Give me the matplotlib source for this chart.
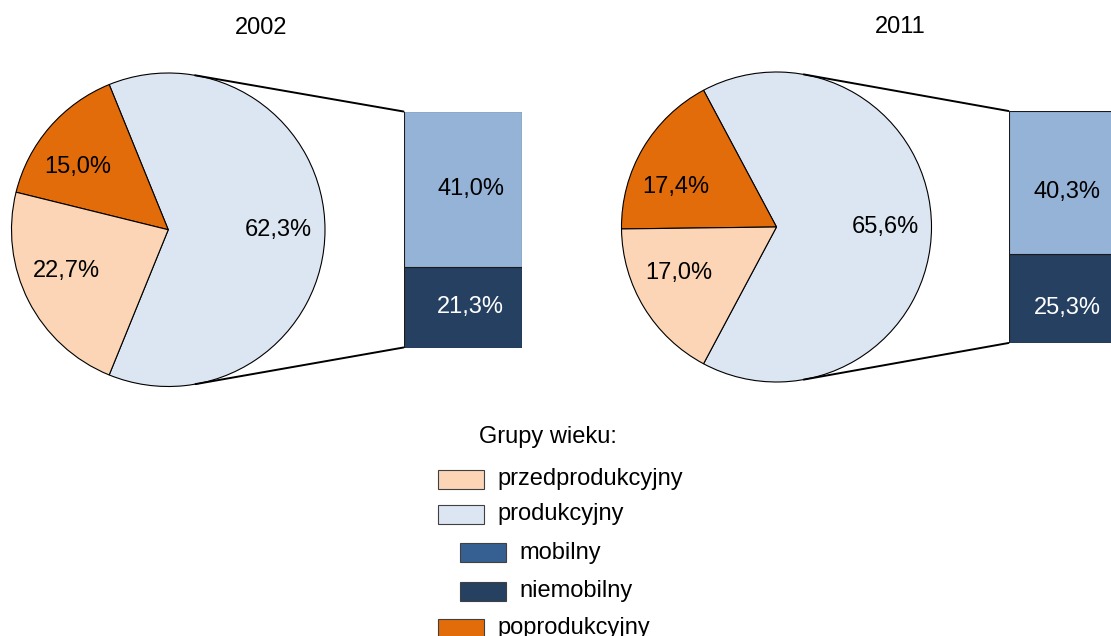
import numpy as np
import matplotlib
matplotlib.use("Agg")
import matplotlib.pyplot as plt
from matplotlib.patches import ConnectionPatch, Rectangle

plt.rcParams['font.family'] = ['Liberation Sans', 'DejaVu Sans']

# ---- data ----
years = ["2002", "2011"]
przedprodukcyjny = [22.7, 17.0]
produkcyjny = [62.3, 65.6]
poprodukcyjny = [15.0, 17.4]
mobilny = [41.0, 40.3]
niemobilny = [21.3, 25.3]
legend_title = "Grupy wieku:"
legend_labels = ["przedprodukcyjny", "produkcyjny", "mobilny", "niemobilny", "poprodukcyjny"]

# ---- style ----
C_PRZED = "#FBD5B5"
C_PROD = "#DCE6F2"
C_POPRO = "#E36C0A"
C_MOB_BAR = "#95B3D7"
C_MOB_LEG = "#376092"
C_NIEMOB = "#254061"
FS = 17

W, H = 1111, 636
fig = plt.figure(figsize=(W / 100, H / 100), dpi=100)


def box(x0, y0, x1, y1):
    """pixel box (top-left origin) -> figure fraction rect"""
    return [x0 / W, 1 - y1 / H, (x1 - x0) / W, (y1 - y0) / H]


def fmt(v):
    return f"{v:.1f}%".replace(".", ",")


pie_boxes = [(11.5, 73, 325, 386.5), (621.5, 72, 931.5, 382)]
bar_boxes = [(403.5, 111.5, 521.5, 347.5), (1008.5, 111, 1125.5, 343)]
bar_label_offsets = [(6, 0), (0, -7)]
title_pos = [(261, 28), (900, 27)]
# label angle adjustments (degrees) for [produkcyjny, poprodukcyjny, przedprodukcyjny]
label_angle_shift = [(0, 6, -5), (0, 9, -6)]

for i in range(2):
    vals = [produkcyjny[i], poprodukcyjny[i], przedprodukcyjny[i]]
    cols = [C_PROD, C_POPRO, C_PRZED]
    axp = fig.add_axes(box(*pie_boxes[i]))
    start = -produkcyjny[i] * 3.6 / 2
    wedges, texts, autotexts = axp.pie(
        vals, colors=cols, startangle=start, counterclock=True, radius=1,
        autopct=lambda p: fmt(p), pctdistance=0.70,
        wedgeprops=dict(edgecolor="black", linewidth=0.8),
        textprops=dict(fontsize=FS, color="black"))
    for w, t, sh in zip(wedges, autotexts, label_angle_shift[i]):
        mid = np.deg2rad((w.theta1 + w.theta2) / 2 + sh)
        t.set_position((0.70 * np.cos(mid), 0.70 * np.sin(mid)))
    axp.set_xlim(-1, 1)
    axp.set_ylim(-1, 1)
    axp.set_aspect("equal")
    axp.axis("off")

    axb = fig.add_axes(box(*bar_boxes[i]))
    total = mobilny[i] + niemobilny[i]
    b1 = axb.bar([0], [niemobilny[i]], width=1, color=C_NIEMOB,
                 edgecolor="#1a1a1a", linewidth=0.8)
    b2 = axb.bar([0], [mobilny[i]], bottom=[niemobilny[i]], width=1,
                 color=C_MOB_BAR, edgecolor="#1a1a1a", linewidth=0.8)
    axb.set_xlim(-0.5, 0.5)
    axb.set_ylim(0, total)
    axb.axis("off")
    l1 = axb.bar_label(b1, labels=[fmt(niemobilny[i])], label_type="center",
                       fontsize=FS, color="white")
    l2 = axb.bar_label(b2, labels=[fmt(mobilny[i])], label_type="center",
                       fontsize=FS, color="black")
    for ann in list(l1) + list(l2):
        ann.xyann = bar_label_offsets[i]

    # tangent connector lines from bar corners to the pie circle
    for ycorner, sign in [(total, 1), (0, -1)]:
        disp = axb.transData.transform((-0.5, ycorner))
        px, py = axp.transData.inverted().transform(disp)
        d = np.hypot(px, py)
        ang = np.arctan2(py, px) + sign * np.arccos(1.0 / d)
        con = ConnectionPatch(xyA=(np.cos(ang), np.sin(ang)), coordsA=axp.transData,
                              xyB=(-0.5, ycorner), coordsB=axb.transData,
                              color="black", linewidth=1.4)
        fig.add_artist(con)

    tx, ty = title_pos[i]
    fig.text(tx / W, 1 - ty / H, years[i], ha="center", va="center", fontsize=FS)

# ---- legend ----
fig.text(479 / W, 1 - 437 / H, legend_title, ha="left", va="center", fontsize=FS)
leg_colors = [C_PRZED, C_PROD, C_MOB_LEG, C_NIEMOB, C_POPRO]
leg_indent = [0, 0, 22, 22, 0]
leg_rows = [479.5, 514, 552.5, 591.5, 628]
for lab, col, ind, yc in zip(legend_labels, leg_colors, leg_indent, leg_rows):
    x0 = 437.5 + ind
    r = Rectangle(((x0) / W, 1 - (yc + 9.5) / H), 46 / W, 19 / H,
                  transform=fig.transFigure, facecolor=col, edgecolor="#404040",
                  linewidth=0.8)
    fig.add_artist(r)
    fig.text((x0 + 60) / W, 1 - yc / H, lab, ha="left", va="center", fontsize=FS)

fig.savefig("out.png", dpi=100)
